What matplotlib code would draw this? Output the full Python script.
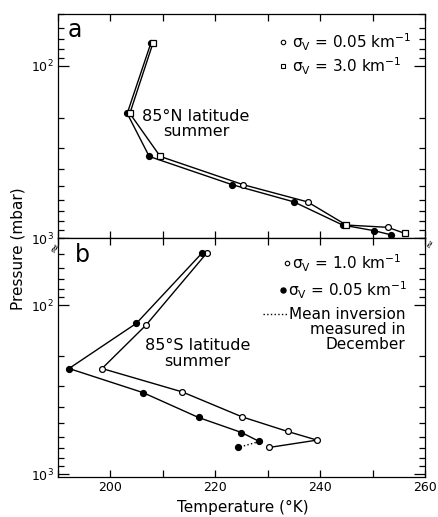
import matplotlib.pyplot as plt
from matplotlib.ticker import LogLocator, NullFormatter, MultipleLocator

plt.rcParams['font.family'] = ['DejaVu Sans']
plt.rcParams['mathtext.fontset'] = 'dejavusans'

# panel a: 85N latitude summer
p_a_005 = [74, 189, 336, 490, 617, 841, 907, 960]
t_a_005 = [207.7, 203.2, 207.4, 223.2, 235.0, 244.3, 250.3, 253.6]
p_a_30 = [74, 189, 336, 490, 617, 841, 867, 939]
t_a_30 = [208.1, 203.7, 209.5, 225.3, 237.6, 245.0, 252.9, 256.1]
sq_idx = [0, 1, 2, 5, 7]   # points drawn as squares on the 3.0 curve
ci_idx = [3, 4, 6]         # points drawn as open circles

# panel b: 85S latitude summer
p_b_10 = [49, 131, 237, 326, 458, 559, 629, 695]
t_b_10 = [218.4, 206.8, 198.4, 213.7, 225.1, 233.8, 239.4, 230.3]
p_b_005 = [49, 128, 237, 329, 462, 567, 641]
t_b_005 = [217.5, 204.95, 192.1, 206.2, 216.8, 225.0, 228.4]
# mean inversion measured in December
p_dec = [641, 695]
t_dec = [228.4, 224.4]

LW = 1.0
MS = 4.2

fig = plt.figure(figsize=(4.39, 5.17), dpi=100)
ax_a = fig.add_axes([58 / 439, 1 - 238 / 517, 367 / 439, 224 / 517])
ax_b = fig.add_axes([58 / 439, 1 - 477 / 517, 367 / 439, 239 / 517])

# --- panel a
ax_a.plot(t_a_005, p_a_005, '-', color='black', lw=LW, marker='o', ms=MS,
          mfc='black', mec='black')
ax_a.plot(t_a_30, p_a_30, '-', color='black', lw=LW)
ax_a.plot([t_a_30[i] for i in sq_idx], [p_a_30[i] for i in sq_idx], 's',
          ms=MS, mfc='white', mec='black', mew=0.9)
ax_a.plot([t_a_30[i] for i in ci_idx], [p_a_30[i] for i in ci_idx], 'o',
          ms=MS, mfc='white', mec='black', mew=0.9)

# --- panel b
ax_b.plot(t_b_10, p_b_10, '-', color='black', lw=LW, marker='o', ms=MS,
          mfc='white', mec='black', mew=0.9)
ax_b.plot(t_b_005, p_b_005, '-', color='black', lw=LW, marker='o', ms=MS,
          mfc='black', mec='black')
ax_b.plot(t_dec, p_dec, ':', color='black', lw=LW)
ax_b.plot(t_dec[1:], p_dec[1:], 'o', ms=MS, mfc='black', mec='black')

for ax in (ax_a, ax_b):
    ax.set_yscale('log')
    ax.set_xlim(190, 260)
    ax.xaxis.set_major_locator(MultipleLocator(20))
    ax.xaxis.set_minor_locator(MultipleLocator(10))
    ax.yaxis.set_major_locator(LogLocator(base=10))
    ax.yaxis.set_minor_locator(LogLocator(base=10, subs=range(2, 10)))
    ax.yaxis.set_minor_formatter(NullFormatter())
    ax.tick_params(axis='both', which='both', direction='in', top=True,
                   right=True, labelsize=9, pad=3, width=0.9)
    ax.tick_params(axis='x', which='both', length=5)
    ax.tick_params(axis='y', which='major', length=8)
    ax.tick_params(axis='y', which='minor', length=4)
    for s in ax.spines.values():
        s.set_linewidth(0.9)

ax_a.set_ylim(1000, 50)
ax_b.set_ylim(1040, 40)
ax_a.tick_params(axis='x', labelbottom=False)
ax_b.set_xticks([200, 220, 240, 260])

# panel letters and annotations
ax_a.text(0.025, 0.93, 'a', transform=ax_a.transAxes, fontsize=17,
          ha='left', va='center')
ax_b.text(0.045, 0.93, 'b', transform=ax_b.transAxes, fontsize=17,
          ha='left', va='center')
ax_a.text(0.376, 0.509, '85°N latitude\nsummer', transform=ax_a.transAxes,
          fontsize=11.5, ha='center', va='center', linespacing=1.05)
ax_b.text(0.381, 0.517, '85°S latitude\nsummer', transform=ax_b.transAxes,
          fontsize=11.5, ha='center', va='center', linespacing=1.05)

# legend panel a
ax_a.plot([0.612], [0.875], 'o', ms=3.2, mfc='white', mec='black', mew=0.8,
          transform=ax_a.transAxes, clip_on=False)
ax_a.plot([0.612], [0.768], 's', ms=3.2, mfc='white', mec='black', mew=0.8,
          transform=ax_a.transAxes, clip_on=False)
ax_a.text(0.638, 0.875, 'σ$_{\\rm V}$ = 0.05 km$^{-1}$', transform=ax_a.transAxes,
          fontsize=11, ha='left', va='center')
ax_a.text(0.638, 0.768, 'σ$_{\\rm V}$ = 3.0 km$^{-1}$', transform=ax_a.transAxes,
          fontsize=11, ha='left', va='center')

# legend panel b
ax_b.plot([0.624], [0.895], 'o', ms=3.2, mfc='white', mec='black', mew=0.8,
          transform=ax_b.transAxes, clip_on=False)
ax_b.plot([0.613], [0.782], 'o', ms=3.6, mfc='black', mec='black',
          transform=ax_b.transAxes, clip_on=False)
ax_b.plot([0.559, 0.627], [0.682, 0.682], ':', color='black', lw=LW,
          transform=ax_b.transAxes, clip_on=False)
ax_b.text(0.638, 0.895, 'σ$_{\\rm V}$ = 1.0 km$^{-1}$', transform=ax_b.transAxes,
          fontsize=11, ha='left', va='center')
ax_b.text(0.627, 0.782, 'σ$_{\\rm V}$ = 0.05 km$^{-1}$', transform=ax_b.transAxes,
          fontsize=11, ha='left', va='center')
ax_b.text(0.946, 0.712, 'Mean inversion\nmeasured in\nDecember',
          transform=ax_b.transAxes, fontsize=11, ha='right', va='top',
          multialignment='right', linespacing=1.0)

# axis break marks
fig.text(55 / 439, 1 - 248 / 517, '≈', fontsize=9, rotation=60,
         ha='center', va='center')
fig.text(430 / 439, 1 - 243 / 517, '≈', fontsize=8, rotation=60,
         ha='center', va='center')

fig.text(18 / 439, 1 - 249 / 517, 'Pressure (mbar)', rotation=90,
         fontsize=11, ha='center', va='center')
fig.text(243 / 439, 1 - 507 / 517, 'Temperature (°K)', fontsize=11,
         ha='center', va='center')

fig.savefig('out.png', dpi=100)
